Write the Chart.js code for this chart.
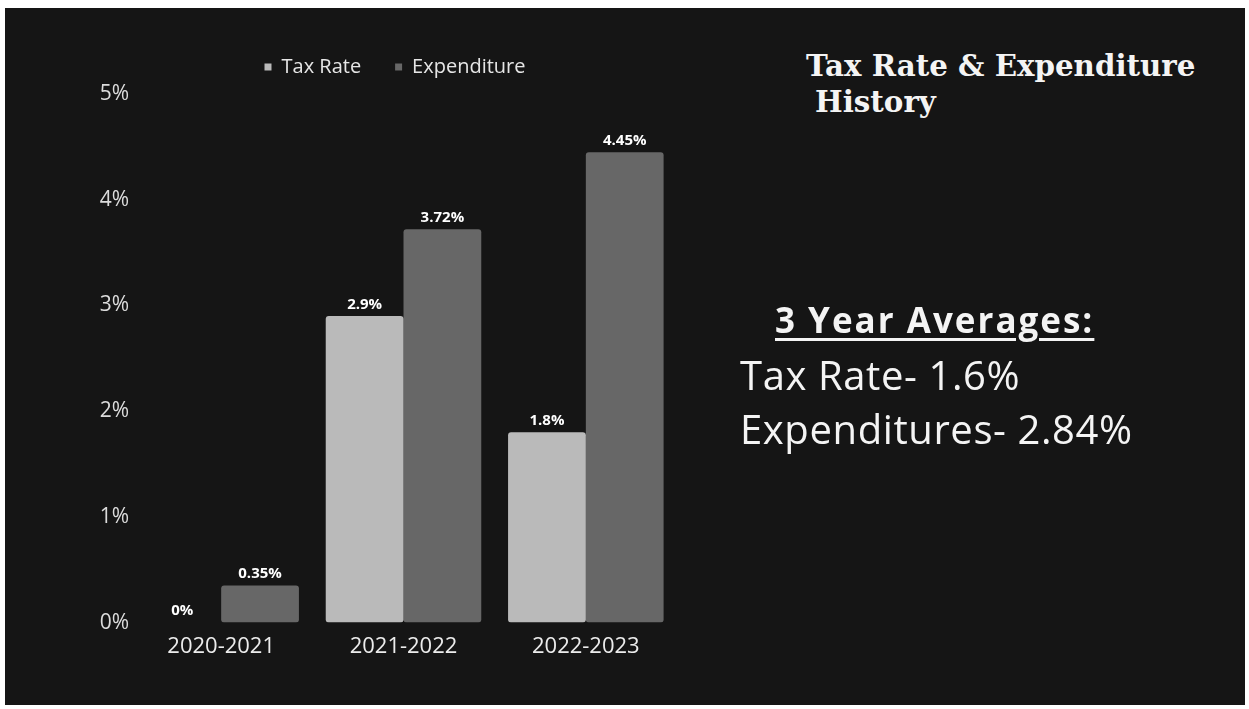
<!DOCTYPE html>
<html>
<head>
<meta charset="utf-8">
<script src="https://cdn.jsdelivr.net/npm/chart.js@4"></script>
<style>
  body { margin: 0; background: #fff; width: 1249px; height: 709px; overflow: hidden; position: relative; }
  #panel { position: absolute; left: 5px; top: 8px; width: 1240px; height: 697px; background: #151515; }
  #wrap { position: absolute; left: 0; top: 0; width: 790px; height: 709px; }
  .txt { position: absolute; white-space: nowrap; color: #f4f4f4; line-height: 1; }
  .titulo { font-family: "DejaVu Serif", serif; font-weight: bold; font-size: 29.3px; }
  .prom { font-family: "Open Sans", sans-serif; }
</style>
</head>
<body>
<div id="panel"></div>
<div id="wrap"><canvas id="graficoBarras"></canvas></div>

<div class="txt titulo" style="left:806px; top:51px;">Tax Rate &amp; Expenditure</div>
<div class="txt titulo" style="left:815px; top:87px;">History</div>
<div class="txt prom" style="left:775px; top:302px; font-size:35px; font-weight:bold; letter-spacing:2px; text-decoration:underline; text-decoration-thickness:3px; text-underline-offset:5px;">3 Year Averages:</div>
<div class="txt prom" style="left:740px; top:355px; font-size:40px; letter-spacing:0.6px;">Tax Rate- 1.6%</div>
<div class="txt prom" style="left:740px; top:409px; font-size:40px; letter-spacing:0.6px;">Expenditures- 2.84%</div>

<script>
// Datos del grafico
let anios = ['2020-2021', '2021-2022', '2022-2023'];
let tasaImpuesto = [0, 2.9, 1.8];
let gastos = [0.35, 3.72, 4.45];
let ticksEje = [0, 1, 2, 3, 4, 5];

let canvas = document.getElementById('graficoBarras');

// Etiquetas de valor encima de cada barra
let etiquetasValor = {
    id: 'etiquetasValor',
    afterDatasetsDraw(chart) {
        let ctx = chart.ctx;
        ctx.save();
        ctx.font = 'bold 15px "Open Sans", sans-serif';
        ctx.fillStyle = '#ffffff';
        ctx.textAlign = 'center';
        ctx.textBaseline = 'bottom';
        chart.data.datasets.forEach(function (ds, i) {
            chart.getDatasetMeta(i).data.forEach(function (barra, j) {
                ctx.fillText(ds.data[j] + '%', barra.x, barra.y - 4);
            });
        });
        ctx.restore();
    }
};

// Centra la leyenda sobre la zona de barras y la sube un poco
let leyendaCentrada = {
    id: 'leyendaCentrada',
    afterLayout(chart) {
        chart.legend.left = 110;
        chart.legend.right = 680;
        chart.legend.top -= 7;
        chart.legend.bottom -= 7;
    }
};

let graficabarra = new Chart(canvas, {
    type: 'bar',
    data: {
        labels: anios,
        datasets: [{
            label: 'Tax Rate',
            data: tasaImpuesto,
            backgroundColor: '#bababa',
            borderRadius: 3,
            borderSkipped: false
        }, {
            label: 'Expenditure',
            data: gastos,
            backgroundColor: '#676767',
            borderRadius: 3,
            borderSkipped: false
        }]
    },
    options: {
        responsive: true,
        maintainAspectRatio: false,
        animation: false,
        layout: { padding: { top: 30, bottom: 46, left: 0, right: 113 } },
        datasets: { bar: { categoryPercentage: 0.853, barPercentage: 1.0 } },
        plugins: {
            legend: {
                position: 'top',
                labels: {
                    color: '#e6e6e6',
                    font: { family: 'Open Sans', size: 20 },
                    boxWidth: 7,
                    boxHeight: 7,
                    padding: 34
                }
            },
            tooltip: { enabled: false }
        },
        scales: {
            x: {
                grid: { display: false },
                border: { display: false },
                ticks: { color: '#ececec', font: { family: 'Open Sans', size: 22 }, padding: 3 }
            },
            y: {
                min: 0,
                max: 5,
                afterFit(scale) { scale.width = 130; },
                afterBuildTicks(scale) { scale.ticks = ticksEje.map(v => ({ value: v })); },
                grid: { display: false, drawTicks: false },
                border: { display: false },
                ticks: {
                    color: '#dcdcdc',
                    font: { family: 'Open Sans', size: 21 },
                    padding: 1,
                    callback: v => v + '%'
                }
            }
        }
    },
    plugins: [etiquetasValor, leyendaCentrada]
});
</script>
</body>
</html>
